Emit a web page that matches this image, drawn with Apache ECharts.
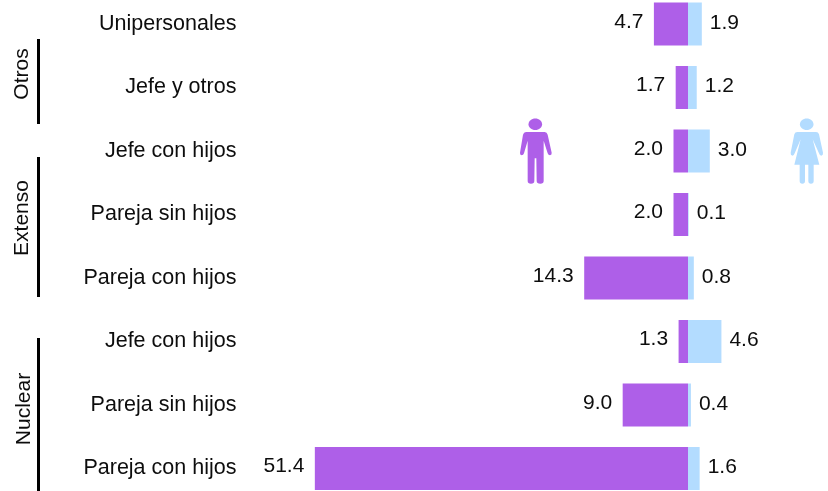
<!DOCTYPE html>
<html><head><meta charset="utf-8">
<style>html,body{margin:0;padding:0;background:#fff}#c{width:828px;height:491px}</style>
<script src="https://cdn.jsdelivr.net/npm/echarts@6/dist/echarts.min.js"></script>
</head><body><div id="c"></div>
<script>
const categories = ['Unipersonales','Jefe y otros','Jefe con hijos','Pareja sin hijos','Pareja con hijos','Jefe con hijos','Pareja sin hijos','Pareja con hijos'];
const hombres = [4.7,1.7,2.0,2.0,14.3,1.3,9.0,51.4];
const mujeres = [1.9,1.2,3.0,0.1,0.8,4.6,0.4,1.6];
const grupos = [
  {name:'Otros', x:22, y:74, y0:39, y1:124},
  {name:'Extenso', x:22, y:218, y0:157, y1:297},
  {name:'Nuclear', x:24, y:409, y0:338, y1:491}
];
const PURPLE='#AE5FE8', BLUE='#B3DCFF', FONT='"Liberation Sans", Arial, sans-serif', INK='#0d0d0d';
const manPath='M78 96L134 96Q141 96 143 104L155 158Q156 165 150 166Q145 166 143 160L131 122L131 243Q131 251 121 251Q110 251 110 243L109 175L104 175L103 243Q103 251 93 251Q83 251 83 243L83 122L72 160Q70 166 65 166Q59 165 60 158L69 104Q71 96 78 96Z';
const womanPath='M892 96L948 96Q955 96 957 103L969 158Q970 165 964 167Q959 167 957 160L938 118L958 194L941 194L941 243Q941 251 933 251Q925 251 925 243L925 194L915 194L915 243Q915 251 907 251Q899 251 899 243L899 194L883 194L902 118L884 160Q882 167 877 167Q871 165 872 158L883 103Q885 96 892 96Z';
echarts.graphic.registerShape('iconMan', echarts.graphic.extendPath(manPath,{}));
echarts.graphic.registerShape('iconWoman', echarts.graphic.extendPath(womanPath,{}));
const chart=echarts.init(document.getElementById('c'),null,{renderer:'canvas'});
const graphic=[];
grupos.forEach(g=>{
  graphic.push({type:'rect',silent:true,shape:{x:37,y:g.y0,width:3,height:g.y1-g.y0},style:{fill:'#000'}});
  graphic.push({type:'text',silent:true,x:g.x,y:g.y,rotation:Math.PI/2,style:{text:g.name,fill:INK,font:'21px '+FONT,align:'center',verticalAlign:'middle'}});
});
[['iconMan',PURPLE],['iconWoman',BLUE]].forEach(([t,c])=>{
  graphic.push({type:t,silent:true,x:500,y:100,scaleX:1/3,scaleY:1/3,style:{fill:c}});
});
graphic.push({type:'ellipse',silent:true,shape:{cx:535.3,cy:124.3,rx:6.8,ry:5.8},style:{fill:PURPLE}});
graphic.push({type:'ellipse',silent:true,shape:{cx:806.7,cy:124.3,rx:6.8,ry:5.8},style:{fill:BLUE}});
chart.setOption({
  animation:false,
  backgroundColor:'#fff',
  grid:{left:252.4,right:0,top:24,height:444.5,containLabel:false},
  xAxis:{type:'value',min:-60,max:19.28,show:false},
  yAxis:{type:'category',inverse:true,boundaryGap:false,data:categories,
    axisLine:{show:false},axisTick:{show:false},splitLine:{show:false},
    axisLabel:{margin:16,color:INK,fontSize:21.5,fontFamily:FONT,offset:[0,-1],interval:0,showMinLabel:true,showMaxLabel:true}},
  graphic:graphic,
  series:[
    {name:'Hombres',type:'bar',stack:'t',barWidth:43,clip:false,data:hombres.map(v=>-v),itemStyle:{color:PURPLE},
     label:{show:true,position:'left',distance:10.5,offset:[0,-2],color:INK,fontSize:21,fontFamily:FONT,formatter:p=>Math.abs(p.value).toFixed(1)}},
    {name:'Mujeres',type:'bar',stack:'t',barWidth:43,clip:false,data:mujeres,itemStyle:{color:BLUE},
     label:{show:true,position:'right',distance:8,offset:[0,-1],color:INK,fontSize:21,fontFamily:FONT,formatter:p=>p.value.toFixed(1)}}
  ]
});
</script></body></html>
